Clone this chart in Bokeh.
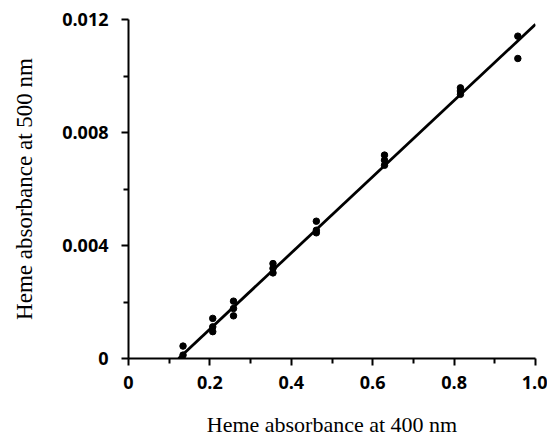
from bokeh.plotting import figure
from bokeh.models import FixedTicker, Range1d
from bokeh.embed import file_html
from bokeh.resources import INLINE

# Data
abs400 = [0.134, 0.134, 0.207, 0.207, 0.207, 0.258, 0.258, 0.258,
          0.355, 0.355, 0.355, 0.4615, 0.4615, 0.4615,
          0.629, 0.629, 0.629, 0.8156, 0.8156, 0.8156, 0.9566, 0.9566]
abs500 = [0.00044, 0.00012, 0.00142, 0.00112, 0.00095, 0.00203, 0.00177, 0.00151,
          0.00336, 0.00319, 0.00303, 0.00486, 0.00454, 0.00445,
          0.0072, 0.00702, 0.00684, 0.00958, 0.00947, 0.00935, 0.01141, 0.01062]

# fitted straight line (endpoints)
fit_x = [0.123, 1.0]
fit_y = [0.0, 0.01183]

x_major = [0, 0.2, 0.4, 0.6, 0.8, 1.0]
x_minor = [0.1, 0.3, 0.5, 0.7, 0.9]
x_labels = ["0", "0.2", "0.4", "0.6", "0.8", "1.0"]
y_major = [0, 0.004, 0.008, 0.012]
y_minor = [0.002, 0.006, 0.010]
y_labels = ["0", "0.004", "0.008", "0.012"]

p = figure(width=547, height=439, output_backend="svg", toolbar_location=None,
           x_range=Range1d(0, 1.0), y_range=Range1d(0, 0.012),
           min_border_left=128, min_border_right=12, min_border_top=19, min_border_bottom=81)
p.outline_line_color = None
p.xgrid.grid_line_color = None
p.ygrid.grid_line_color = None

p.line(fit_x, fit_y, line_color="black", line_width=2.8)
p.scatter(abs400, abs500, size=6.5, fill_color="black", line_color="black")

p.xaxis.ticker = FixedTicker(ticks=x_major, minor_ticks=x_minor)
p.yaxis.ticker = FixedTicker(ticks=y_major, minor_ticks=y_minor)
p.xaxis.major_label_overrides = {t: l for t, l in zip(x_major, x_labels)}
p.yaxis.major_label_overrides = {t: l for t, l in zip(y_major, y_labels)}

p.xaxis.axis_label = "Heme absorbance at 400 nm"
p.yaxis.axis_label = "Heme absorbance at 500 nm"

for ax in (p.xaxis[0], p.yaxis[0]):
    ax.axis_line_width = 2
    ax.axis_line_color = "black"
    ax.major_tick_line_width = 2
    ax.minor_tick_line_width = 2
    ax.major_tick_line_color = "black"
    ax.minor_tick_line_color = "black"
    ax.major_tick_in = 0
    ax.major_tick_out = 7
    ax.minor_tick_in = 0
    ax.minor_tick_out = 5
    ax.major_label_text_font = "Open Sans"
    ax.major_label_text_font_size = "18px"
    ax.major_label_text_font_style = "bold"
    ax.major_label_text_color = "black"
    ax.axis_label_text_font = "Liberation Serif"
    ax.axis_label_text_font_size = "22px"
    ax.axis_label_text_font_style = "normal"
    ax.axis_label_text_color = "black"

p.yaxis.axis_label_text_font_size = "23px"
p.yaxis.major_label_standoff = 13
p.yaxis.axis_label_standoff = 22
p.xaxis.major_label_standoff = 10
p.xaxis.axis_label_standoff = 20

open("out.html", "w").write(file_html(p, INLINE))
